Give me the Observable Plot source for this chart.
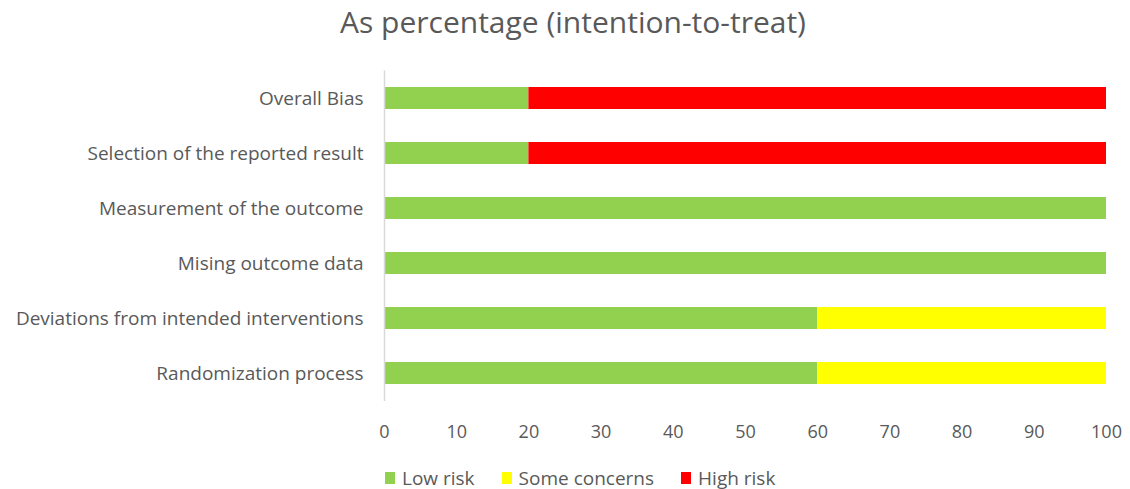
<!DOCTYPE html>
<html>
<head>
<meta charset="utf-8">
<script src="https://cdn.jsdelivr.net/npm/d3@7"></script>
<script src="https://cdn.jsdelivr.net/npm/@observablehq/plot@0.6"></script>
<style>
  html, body { margin: 0; padding: 0; background: #fff; }
  body { width: 1130px; height: 489px; overflow: hidden; font-family: "Open Sans", sans-serif; color: #595959; }
  #title { height: 50px; line-height: 44px; font-size: 30px; text-align: center; padding-left: 16px; box-sizing: border-box; color: #595959; }
  #chart svg { display: block; }
  #legend { position: absolute; top: 465px; left: 385px; display: flex; align-items: center; font-size: 19px; color: #595959; }
  .item { display: flex; align-items: center; margin-right: 27px; }
  .sw { width: 10px; height: 12px; margin-right: 7px; }
</style>
</head>
<body>
<div id="title">As percentage (intention-to-treat)</div>
<div id="chart"></div>
<div id="legend"></div>
<script>
const domains = [
  "Overall Bias",
  "Selection of the reported result",
  "Measurement of the outcome",
  "Mising outcome data",
  "Deviations from intended interventions",
  "Randomization process"
];
const riskLevels = ["Low risk", "Some concerns", "High risk"];
const riskColors = ["#92D050", "#FFFF00", "#FF0000"];
const lowRisk      = [20, 20, 100, 100, 60, 60];
const someConcerns = [0, 0, 0, 0, 40, 40];
const highRisk     = [80, 80, 0, 0, 0, 0];
const xTicks = [0, 10, 20, 30, 40, 50, 60, 70, 80, 90, 100];

const series = [lowRisk, someConcerns, highRisk];
const rows = [];
domains.forEach((d, i) => {
  riskLevels.forEach((r, j) => {
    rows.push({domain: d, risk: r, value: series[j][i]});
  });
});

const chart = Plot.plot({
  width: 1130,
  height: 405,
  marginLeft: 384,
  marginRight: 24,
  marginTop: 20.5,
  marginBottom: 54,
  style: {fontFamily: "'Open Sans', sans-serif", color: "#595959", background: "#fff"},
  x: {domain: [0, 100]},
  y: {domain: domains, paddingInner: 0.6, paddingOuter: 0.3},
  color: {domain: riskLevels, range: riskColors},
  marks: [
    Plot.barX(rows, Plot.stackX({x: "value", y: "domain", fill: "risk", order: riskLevels, inset: 0})),
    Plot.ruleX([0], {stroke: "#d9d9d9", strokeWidth: 1.5}),
    Plot.axisX({ticks: xTicks, tickSize: 0, tickPadding: 24, fontSize: 18, label: null, fill: "#595959"}),
    Plot.axisY({tickSize: 0, tickPadding: 21, fontSize: 19, label: null, fill: "#595959"})
  ]
});
document.getElementById("chart").appendChild(chart);

const legend = document.getElementById("legend");
riskLevels.forEach((r, i) => {
  const item = document.createElement("div");
  item.className = "item";
  const sw = document.createElement("div");
  sw.className = "sw";
  sw.style.background = riskColors[i];
  const t = document.createElement("span");
  t.textContent = r;
  item.appendChild(sw);
  item.appendChild(t);
  legend.appendChild(item);
});
</script>
</body>
</html>
